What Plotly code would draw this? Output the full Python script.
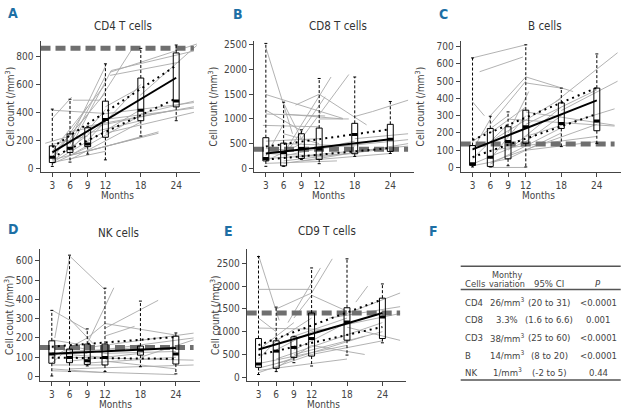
import plotly.graph_objects as go

W, H = 626, 414
FONT = "Liberation Sans Narrow, DejaVu Sans Condensed, Liberation Sans, Arial, sans-serif"

MONTHS = [3, 6, 9, 12, 18, 24]
FIT_X = [3, 24]
REF_X = [1, 27]
X_RANGE = [1, 28]

# ---------------- Panel A: CD4 T cells ----------------
A_q1 = [40, 112, 154, 221, 340, 439]
A_med = [78, 142, 173, 349, 415, 482]
A_q3 = [159, 245, 290, 480, 646, 826]
A_lo = [12, 43, 100, 59, 230, 340]
A_hi = [423, 494, 300, 748, 859, 883]
A_fit = [112, 648]
A_ciu = [150, 736]
A_cil = [78, 500]
A_ref = 860
A_lines = [
    [3, 415, 12, 392], [3, 356, 6.3, 510], [6.5, 487, 11, 487], [11, 487, 16.7, 866],
    [12.8, 688, 27.5, 890], [12.8, 665, 24.6, 760], [13, 700, 27, 840], [17.9, 522, 27.5, 880],
    [6, 202, 12.2, 748], [6, 170, 12, 660], [3, 120, 12, 600], [3, 80, 12, 540],
    [6, 140, 13, 700], [3, 60, 9, 440], [3, 100, 9, 380], [6, 120, 12, 420],
    [3, 50, 12, 330], [3, 40, 18, 420], [6, 90, 18, 380], [9, 200, 18, 600],
    [12, 350, 27, 430], [12, 390, 27, 470], [9, 300, 27, 440], [18, 390, 27, 480],
    [6, 260, 24, 420], [12, 440, 18, 580], [3, 60, 21, 250], [6, 90, 18, 220],
    [3, 40, 12, 120], [9, 120, 21, 260], [12, 250, 27, 400], [6, 60, 18, 330],
    [3, 170, 9, 230], [9, 250, 18, 340], [3, 30, 9, 150], [1.8, 178, 6, 230],
]

# ---------------- Panel B: CD8 T cells ----------------
B_q1 = [150, 50, 200, 180, 295, 342]
B_med = [200, 320, 400, 389, 684, 590]
B_q3 = [620, 510, 700, 815, 911, 891]
B_lo = [40, 40, 180, 94, 241, 300]
B_hi = [2530, 1340, 780, 1820, 1850, 1354]
B_fit = [300, 590]
B_ciu = [440, 790]
B_cil = [175, 410]
B_ref = 385
B_lines = [
    [3, 2450, 7.5, 700], [3, 1495, 16, 1010], [3, 1180, 9.2, 744], [3, 1100, 13, 1060],
    [2.5, 870, 12, 840], [6, 1320, 9, 600], [6, 1100, 16, 1000], [6, 300, 14, 1850],
    [7, 400, 13, 1450], [9, 600, 17, 1900], [8, 1280, 12, 1500], [12, 1500, 20, 880],
    [12, 1000, 17, 1000], [18, 1050, 21, 1150], [21, 1150, 27, 1380], [12, 400, 27, 580],
    [3, 200, 18, 300], [3, 100, 15, 150], [6, 150, 24, 400], [9, 250, 27, 450],
    [3, 300, 12, 250], [3, 400, 9, 350], [6, 500, 18, 450], [3, 550, 12, 600],
    [6, 250, 18, 550], [9, 150, 24, 300], [12, 200, 27, 500], [3, 150, 9, 500],
    [6, 700, 12, 500], [3, 250, 6, 900], [18, 600, 27, 700], [6, 100, 12, 200],
]

# ---------------- Panel C: B cells ----------------
C_q1 = [12, 6, 50, 140, 226, 213]
C_med = [21, 59, 150, 236, 255, 270]
C_q3 = [127, 226, 236, 332, 374, 460]
C_lo = [3, 3, 10, 3, 121, 140]
C_hi = [635, 297, 322, 711, 460, 658]
C_fit = [105, 389]
C_ciu = [160, 462]
C_cil = [60, 310]
C_ref = 136
C_lines = [
    [3, 635, 12, 711], [4.2, 555, 11.5, 640], [3, 380, 5, 300], [6, 300, 12, 525],
    [12, 525, 20, 440], [12, 490, 18, 460], [6, 250, 12, 500], [9, 200, 12.5, 440],
    [17, 380, 27.5, 665], [18, 330, 27.5, 500], [12, 322, 27, 245], [9, 280, 27, 240],
    [12, 180, 27, 340], [3, 20, 12, 150], [3, 10, 9, 50], [6, 0, 12, 0],
    [6, 20, 18, 230], [6, 100, 24, 180], [12, 100, 24, 150], [3, 100, 6, 280],
    [6, 150, 18, 400], [9, 100, 18, 350], [6, 50, 12, 300], [3, 50, 9, 250],
    [9, 50, 18, 200], [12, 250, 24, 450], [6, 200, 12, 350], [3, 150, 9, 300],
    [12, 150, 18, 300], [6, 30, 24, 250],
]

# ---------------- Panel D: NK cells ----------------
D_q1 = [69, 72, 63, 60, 111, 65]
D_med = [117, 99, 82, 99, 137, 117]
D_q3 = [185, 142, 168, 168, 158, 209]
D_lo = [3, 26, 55, 26, 51, 14]
D_hi = [343, 629, 247, 458, 391, 226]
D_fit = [118, 148]
D_ciu = [155, 205]
D_cil = [98, 92]
D_ref = 151
D_lines = [
    [3.5, 200, 6, 620], [6, 625, 12, 450], [3, 345, 9, 240], [6, 300, 10, 170],
    [9, 170, 13.5, 460], [9, 200, 12, 275], [12, 275, 24, 215], [12, 250, 21, 395],
    [12, 210, 17, 260], [3, 190, 9, 160], [9, 150, 27, 225], [12, 140, 27, 200],
    [3, 30, 24, 10], [6, 40, 27, 60], [6, 100, 27, 85], [12, 80, 24, 40],
    [18, 100, 27, 190], [3, 70, 6, 150], [3, 120, 12, 100], [3, 150, 9, 120],
    [6, 80, 18, 120], [3, 60, 12, 60], [6, 130, 18, 150], [9, 70, 24, 100],
    [3, 100, 9, 200], [12, 120, 24, 130], [6, 160, 12, 120], [3, 40, 12, 20],
]

# ---------------- Panel E: CD9 T cells ----------------
E_q1 = [218, 196, 436, 465, 814, 850]
E_med = [291, 574, 654, 850, 1213, 1323]
E_q3 = [850, 800, 886, 1410, 1526, 1737]
E_lo = [60, 124, 320, 247, 487, 756]
E_hi = [2650, 1540, 900, 2400, 2600, 2049]
E_fit = [610, 1410]
E_ciu = [705, 1710]
E_cil = [490, 1105]
E_ref = 1410
E_lines = [
    [3, 2680, 6.5, 1250], [3, 1930, 12, 1930], [3, 1300, 6, 1000], [6, 1500, 12, 1850],
    [8, 1200, 13.5, 2400], [12, 1850, 15.5, 2600], [9, 1300, 12, 1800], [12, 1800, 18, 1450],
    [19.5, 1650, 21.5, 2000], [18, 1400, 27, 1850], [15, 1300, 27, 1550], [3, 1080, 15, 1050],
    [18, 1100, 27, 810], [3, 100, 12, 500], [3, 300, 18, 700], [6, 300, 21, 900],
    [9, 500, 24, 1000], [6, 800, 12, 1300], [3, 600, 9, 1200], [6, 400, 24, 1200],
    [12, 700, 21, 500], [3, 200, 9, 400], [6, 200, 12, 700], [9, 600, 18, 1200],
    [12, 1000, 27, 1400], [3, 400, 6, 800], [6, 600, 12, 1000], [3, 150, 18, 400],
    [12, 500, 24, 800], [9, 900, 18, 1300],
]

# ---------------- Panel F: table ----------------
TBL_CELLS = ["CD4", "CD8", "CD3", "B", "NK"]
TBL_VAR = ["26/mm<sup>3</sup>", "3.3%", "38/mm<sup>3</sup>", "14/mm<sup>3</sup>", "1/mm<sup>3</sup>"]
TBL_CI = ["(20 to 31)", "(1.6 to 6.6)", "(25 to 60)", "(8 to 20)", "(-2 to 5)"]
TBL_P = ["&lt;0.0001", "0.001", "&lt;0.0001", "&lt;0.0001", "0.44"]

panels = [
    dict(letter="A", title="CD4 T cells", q1=A_q1, med=A_med, q3=A_q3, lo=A_lo, hi=A_hi,
         fit=A_fit, ciu=A_ciu, cil=A_cil, ref=A_ref, lines=A_lines,
         dx=(40.5, 199.8), dy=(40, 172.3), yr=(-28.5, 913.8), yt=[0, 200, 400, 600, 800],
         letter_xy=(13, 12), title_xy=(123, 25), ytitle_x=10, months_xy=(117, 196)),
    dict(letter="B", title="CD8 T cells", q1=B_q1, med=B_med, q3=B_q3, lo=B_lo, hi=B_hi,
         fit=B_fit, ciu=B_ciu, cil=B_cil, ref=B_ref, lines=B_lines,
         dx=(254, 414), dy=(40, 172.3), yr=(-76, 2585), yt=[0, 500, 1000, 1500, 2000, 2500],
         letter_xy=(238, 13), title_xy=(338, 25), ytitle_x=213, months_xy=(328, 196)),
    dict(letter="C", title="B cells", q1=C_q1, med=C_med, q3=C_q3, lo=C_lo, hi=C_hi,
         fit=C_fit, ciu=C_ciu, cil=C_cil, ref=C_ref, lines=C_lines,
         dx=(460.7, 620.5), dy=(40, 172.3), yr=(-26.5, 734.7), yt=[0, 100, 200, 300, 400, 500, 600, 700],
         letter_xy=(443, 13), title_xy=(545, 25), ytitle_x=420, months_xy=(538, 196)),
    dict(letter="D", title="NK cells", q1=D_q1, med=D_med, q3=D_q3, lo=D_lo, hi=D_hi,
         fit=D_fit, ciu=D_ciu, cil=D_cil, ref=D_ref, lines=D_lines,
         dx=(40, 199.5), dy=(250, 382.7), yr=(-22.6, 660), yt=[0, 100, 200, 300, 400, 500, 600],
         letter_xy=(13, 230), title_xy=(118, 234), ytitle_x=9, months_xy=(115, 406.5)),
    dict(letter="E", title="CD9 T cells", q1=E_q1, med=E_med, q3=E_q3, lo=E_lo, hi=E_hi,
         fit=E_fit, ciu=E_ciu, cil=E_cil, ref=E_ref, lines=E_lines,
         dx=(246.7, 406), dy=(250, 382.7), yr=(-80.7, 2812), yt=[0, 500, 1000, 1500, 2000, 2500],
         letter_xy=(228, 232), title_xy=(327, 232), ytitle_x=215, months_xy=(323, 406.5)),
]

LETTER_COLOR = "#1d6fa5"
TXT = "#444444"
AX = "#444444"


def PX(p):
    return min(1.0, max(0.0, p / W))


def PY(p):
    return min(1.0, max(0.0, 1 - p / H))


fig = go.Figure()
annotations = []
layout = {}

for i, p in enumerate(panels, start=1):
    sfx = "" if i == 1 else str(i)
    xa, ya = "x" + sfx, "y" + sfx
    common = dict(xaxis=xa, yaxis=ya, hoverinfo="skip", showlegend=False, mode="lines")

    # individual patient lines
    xs, ys = [], []
    for x0, y0, x1, y1 in p["lines"]:
        xs += [x0, x1, None]
        ys += [y0, y1, None]
    fig.add_trace(go.Scatter(x=xs, y=ys, line=dict(color="#a9a9a9", width=0.9), **common))

    # reference (normal) line
    fig.add_trace(go.Scatter(x=REF_X, y=[p["ref"]] * 2,
                             line=dict(color="#6f6f6f", width=5, dash="10px,5px"), **common))

    # boxes
    bx, by, mx, my, wx, wy, sx, sy = [], [], [], [], [], [], [], []
    for m, q1, md, q3, lo, hi in zip(MONTHS, p["q1"], p["med"], p["q3"], p["lo"], p["hi"]):
        bx += [m - 0.5, m + 0.5, m + 0.5, m - 0.5, m - 0.5, None]
        by += [q1, q1, q3, q3, q1, None]
        mx += [m - 0.5, m + 0.5, None]
        my += [md, md, None]
        wx += [m, m, None, m, m, None]
        wy += [q3, hi, None, q1, lo, None]
        sx += [m - 0.25, m + 0.25, None, m - 0.25, m + 0.25, None]
        sy += [hi, hi, None, lo, lo, None]
    fig.add_trace(go.Scatter(x=wx, y=wy, line=dict(color="black", width=1, dash="3px,2px"), **common))
    fig.add_trace(go.Scatter(x=sx, y=sy, line=dict(color="black", width=1), **common))
    fig.add_trace(go.Scatter(x=bx, y=by, line=dict(color="black", width=1), **common))
    fig.add_trace(go.Scatter(x=mx, y=my, line=dict(color="black", width=3), **common))

    # fitted trend and confidence band
    fig.add_trace(go.Scatter(x=FIT_X, y=p["ciu"], line=dict(color="black", width=2, dash="2px,4px"), **common))
    fig.add_trace(go.Scatter(x=FIT_X, y=p["cil"], line=dict(color="black", width=2, dash="2px,4px"), **common))
    fig.add_trace(go.Scatter(x=FIT_X, y=p["fit"], line=dict(color="black", width=2), **common))

    tickfont = dict(family=FONT, size=10, color=TXT)
    layout["xaxis" + sfx] = dict(
        domain=[PX(p["dx"][0]), PX(p["dx"][1])], range=X_RANGE, anchor=ya,
        tickmode="array", tickvals=MONTHS, ticktext=[str(m) for m in MONTHS],
        ticks="outside", ticklen=4, tickcolor=AX, showline=True, linecolor=AX, linewidth=1,
        showgrid=False, zeroline=False, tickfont=tickfont, fixedrange=True)
    layout["yaxis" + sfx] = dict(
        domain=[PY(p["dy"][1]), PY(p["dy"][0])], range=list(p["yr"]), anchor=xa,
        tickmode="array", tickvals=p["yt"], ticktext=[str(v) for v in p["yt"]],
        ticks="outside", ticklen=4, tickcolor=AX, showline=True, linecolor=AX, linewidth=1,
        showgrid=False, zeroline=False, tickfont=tickfont, fixedrange=True)

    cy = (p["dy"][0] + p["dy"][1]) / 2
    annotations += [
        dict(text="<b>%s</b>" % p["letter"], x=PX(p["letter_xy"][0]), y=PY(p["letter_xy"][1]),
             font=dict(family=FONT, size=14, color=LETTER_COLOR)),
        dict(text=p["title"], x=PX(p["title_xy"][0]), y=PY(p["title_xy"][1]),
             font=dict(family=FONT, size=11.5, color="#333333")),
        dict(text="Cell count (/mm<sup>3</sup>)", x=PX(p["ytitle_x"]), y=PY(cy), textangle=-90,
             font=dict(family=FONT, size=10, color=TXT)),
        dict(text="Months", x=PX(p["months_xy"][0]), y=PY(p["months_xy"][1]),
             font=dict(family=FONT, size=10, color=TXT)),
    ]

# Panel F
annotations.append(dict(text="<b>F</b>", x=PX(433), y=PY(232),
                        font=dict(family=FONT, size=14, color=LETTER_COLOR)))
TF = dict(family=FONT, size=9.5, color="#444444")
TH = dict(family=FONT, size=9, color="#444444")
annotations += [
    dict(text="Cells", x=PX(463), y=PY(284.5), xanchor="left", font=TF),
    dict(text="Monthy", x=PX(507), y=PY(276), font=TH),
    dict(text="variation", x=PX(507), y=PY(285), font=TH),
    dict(text="95% CI", x=PX(549), y=PY(284.5), font=TF),
    dict(text="<i>P</i>", x=PX(598), y=PY(284.5), font=TF),
]
ROW_Y = [303.3, 320.7, 339, 356.7, 374]
for ry, c, v, ci, pv in zip(ROW_Y, TBL_CELLS, TBL_VAR, TBL_CI, TBL_P):
    annotations += [
        dict(text=c, x=PX(463), y=PY(ry), xanchor="left", font=TF),
        dict(text=v, x=PX(507), y=PY(ry), font=TF),
        dict(text=ci, x=PX(549), y=PY(ry), font=TF),
        dict(text=pv, x=PX(598), y=PY(ry), font=TF),
    ]
for a in annotations:
    a.setdefault("xref", "paper")
    a.setdefault("yref", "paper")
    a.setdefault("showarrow", False)
    a.setdefault("xanchor", "center")
    a.setdefault("yanchor", "middle")

shapes = []
for ly in [267.3, 290.5, 381.7]:
    shapes.append(dict(type="line", xref="paper", yref="paper", x0=PX(460.7), x1=PX(620.7),
                       y0=PY(ly), y1=PY(ly), line=dict(color="#555555", width=1.5)))

fig.update_layout(
    width=W, height=H, autosize=False,
    margin=dict(l=0, r=0, t=0, b=0),
    paper_bgcolor="white", plot_bgcolor="white",
    showlegend=False, annotations=annotations, shapes=shapes,
    font=dict(family=FONT, color=TXT),
    **layout,
)

fig.write_html("out.html", config={"displayModeBar": False},
               post_script="document.body.style.margin='0';document.body.style.overflow='hidden';")
